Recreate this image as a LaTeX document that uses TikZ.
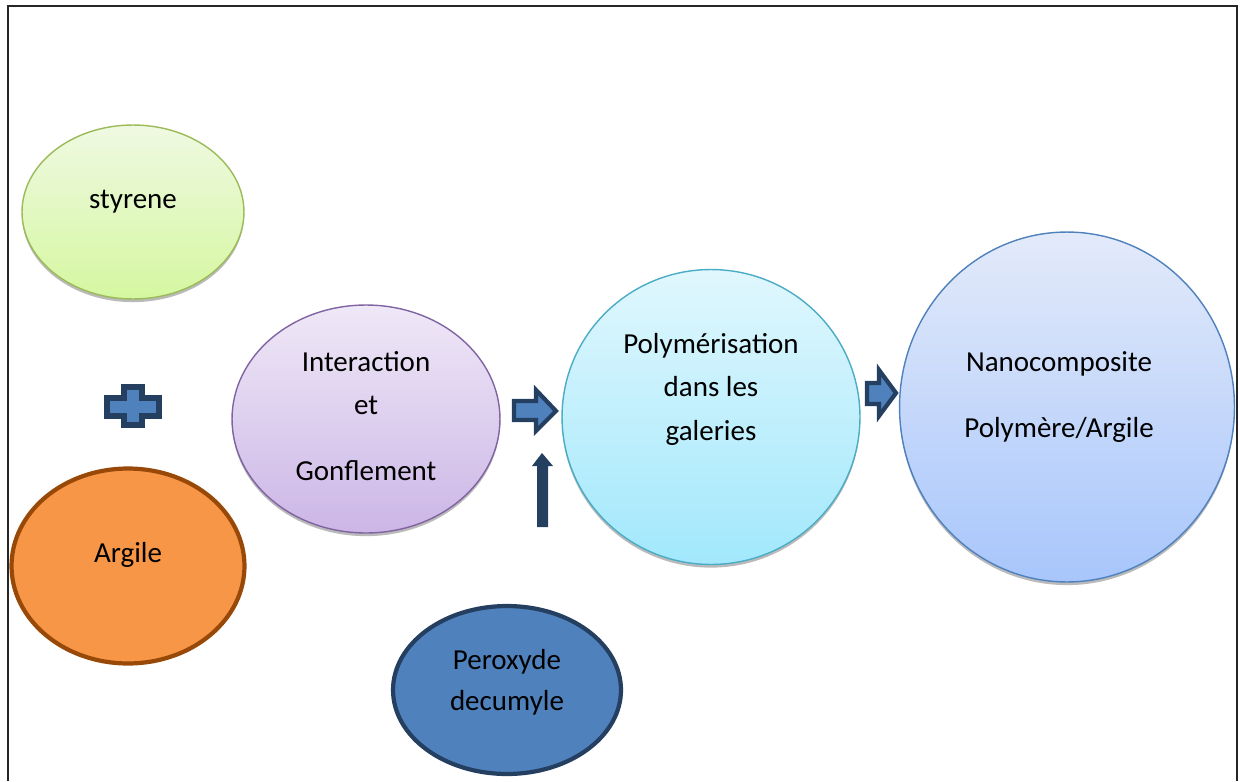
\documentclass[tikz,border=0pt]{standalone}
\usepackage{fontspec}
\setmainfont{Carlito}
\usetikzlibrary{shapes.geometric,shadows}

\definecolor{vertbord}{HTML}{9BBB59}
\definecolor{vertclair}{HTML}{EFF9E2}
\definecolor{vertfonce}{HTML}{D5F7A0}
\definecolor{violetbord}{HTML}{8064A2}
\definecolor{violetclair}{HTML}{EFE8F7}
\definecolor{violetfonce}{HTML}{CCB6E6}
\definecolor{cyanbord}{HTML}{4BACC6}
\definecolor{cyanclair}{HTML}{E0F7FD}
\definecolor{cyanfonce}{HTML}{A2E8FC}
\definecolor{bleubord}{HTML}{4F81BD}
\definecolor{bleuclair}{HTML}{E3EAFA}
\definecolor{bleufonce}{HTML}{A8C6FB}
\definecolor{orange}{HTML}{F79646}
\definecolor{brun}{HTML}{984807}
\definecolor{bleu}{HTML}{4F81BD}
\definecolor{marine}{HTML}{243F60}

\begin{document}
\begin{tikzpicture}[x=0.02cm,y=-0.02cm,
  bulle/.style={ellipse,inner sep=0pt,outer sep=0pt,line width=0.8pt,shading=axis,
    drop shadow={shadow xshift=0pt,shadow yshift=-1.8pt,opacity=0.6,fill=black!45}},
  epaisse/.style={ellipse,inner sep=0pt,outer sep=0pt,line width=2.4pt},
  texte/.style={align=center,font=\fontsize{16.5}{24.5}\selectfont,anchor=base},
  fleche/.style={fill=bleu,draw=marine,line width=2.4pt,line join=miter}]
  % Frame
  \useasboundingbox (0,0) rectangle (1240,781);
  \draw[line width=1.3pt,black!85] (8,781) -- (8,6) -- (1237,6) -- (1237,781);

  % Ellipses
  \node[bulle,draw=vertbord,top color=vertclair,bottom color=vertfonce,
    minimum width=4.44cm,minimum height=3.48cm] (sty) at (133,212) {};
  \node[epaisse,draw=brun,fill=orange,
    minimum width=4.66cm,minimum height=3.90cm] (arg) at (128,566) {};
  \node[bulle,draw=violetbord,top color=violetclair,bottom color=violetfonce,
    minimum width=5.36cm,minimum height=4.56cm] (inter) at (366,419) {};
  \node[bulle,draw=cyanbord,top color=cyanclair,bottom color=cyanfonce,
    minimum width=5.96cm,minimum height=5.90cm] (poly) at (711,417) {};
  \node[bulle,draw=bleubord,top color=bleuclair,bottom color=bleufonce,
    minimum width=6.70cm,minimum height=7.00cm] (nano) at (1067,407) {};
  \node[epaisse,draw=marine,fill=bleu,
    minimum width=4.56cm,minimum height=3.36cm] (perox) at (507,690) {};

  % Labels (anchored on the baseline of the last line)
  \node[texte] (tsty) at (133,208) {styrene};
  \node[texte] (targ) at (128,562) {Argile};
  \node[texte] (tinter) at (366,480) {Interaction\\et\\[13pt]Gonflement};
  \node[texte] (tpoly) at (711,440) {Polymérisation\\dans les\\galeries};
  \node[texte] (tnano) at (1059,437) {Nanocomposite\\[13pt]Polymère/Argile};
  \node[texte,font=\fontsize{16.5}{23}\selectfont] (tperox) at (507,710) {Peroxyde\\decumyle};

  % Plus sign
  \draw[fleche,line width=3pt] (124,387) -- (142,387) -- (142,398) -- (159,398) -- (159,416)
    -- (142,416) -- (142,425) -- (124,425) -- (124,416) -- (107,416) -- (107,398)
    -- (124,398) -- cycle;

  % Block arrows
  \draw[fleche] (514,401) -- (536,401) -- (536,390) -- (556,411) -- (536,431) -- (536,420)
    -- (514,420) -- cycle;
  \fill[marine] (537,527) -- (537,466) -- (532,466) -- (542,453) -- (553,466) -- (548,466)
    -- (548,527) -- cycle;
  \draw[fleche] (867,383) -- (879,383) -- (879,370) -- (896,393) -- (879,416) -- (879,404)
    -- (867,404) -- cycle;
\end{tikzpicture}
\end{document}
